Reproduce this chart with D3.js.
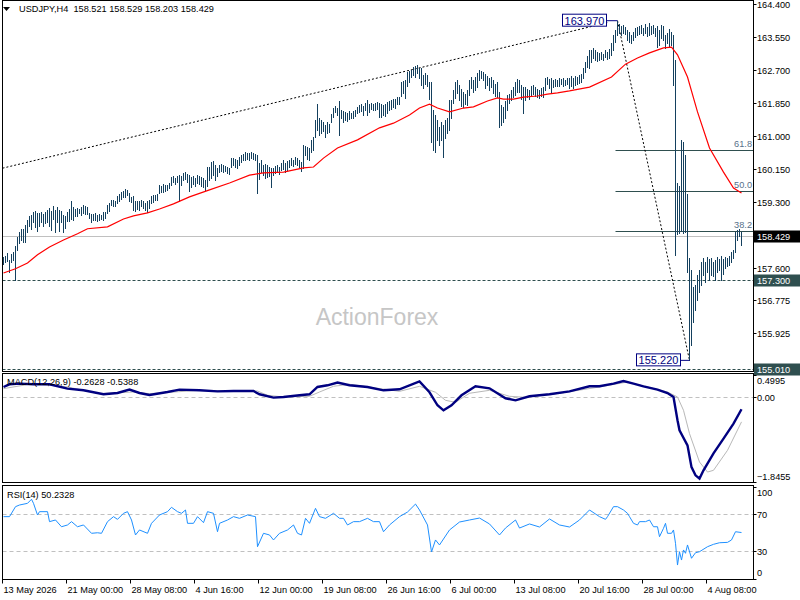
<!DOCTYPE html>
<html>
<head>
<meta charset="utf-8">
<script src="https://cdn.jsdelivr.net/npm/d3@7"></script>
<style>
  body { margin: 0; background: #fff; }
  text { font-family: "Liberation Sans", Arial, sans-serif; }
</style>
</head>
<body>
<div id="chart"></div>
<script>
// USDJPY H4 bars (high / low), one per 4h bar, 13 May -> 7 Aug 2026
const highs = [
  157.88,157.91,157.99,157.81,157.96,158.01,158.17,158.40,158.53,158.61,
  158.61,158.71,158.84,158.94,158.97,159.04,159.07,159.02,159.02,159.04,
  158.99,159.04,159.09,159.15,159.07,159.20,159.09,159.17,159.09,159.07,
  158.97,158.94,159.04,159.12,159.33,159.17,159.12,159.15,159.12,159.17,
  159.22,159.20,159.17,159.02,158.99,158.99,159.02,158.97,158.99,158.97,
  159.04,159.04,159.22,159.27,159.35,159.35,159.33,159.45,159.51,159.56,
  159.58,159.64,159.61,159.53,159.43,159.45,159.33,159.33,159.33,159.35,
  159.33,159.27,159.33,159.35,159.45,159.48,159.48,159.51,159.74,159.71,
  159.76,159.74,159.74,159.79,159.94,159.97,159.92,159.97,159.99,159.97,
  160.05,160.07,160.02,159.99,159.94,159.97,159.92,159.99,159.97,159.94,
  159.92,159.87,160.20,160.20,160.33,160.36,160.25,160.18,160.25,160.28,
  160.25,160.23,160.20,160.18,160.43,160.43,160.41,160.38,160.46,160.51,
  160.54,160.59,160.56,160.56,160.59,160.56,160.54,160.51,160.31,160.38,
  160.25,160.28,160.25,160.20,160.18,160.18,160.23,160.25,160.20,160.31,
  160.38,160.31,160.36,160.38,160.43,160.38,160.46,160.43,160.38,160.33,
  160.77,160.74,160.72,160.69,160.90,160.97,161.41,161.82,161.46,161.41,
  161.36,161.28,161.36,161.31,161.57,161.72,161.77,161.72,161.90,161.67,
  161.64,161.62,161.59,161.64,161.59,161.64,161.67,161.74,161.80,161.82,
  161.77,161.85,161.93,161.82,161.85,161.82,161.85,161.88,161.85,161.82,
  161.80,161.82,161.88,161.90,161.93,161.95,161.95,162.00,162.00,162.39,
  162.42,162.44,162.65,162.67,162.70,162.78,162.80,162.83,162.75,162.75,
  162.57,162.62,162.57,162.39,162.39,161.67,161.54,161.41,161.23,161.36,
  161.28,161.41,161.46,161.93,161.93,162.18,162.39,162.44,162.31,162.21,
  162.13,162.08,162.18,162.44,162.52,162.44,162.52,162.62,162.70,162.67,
  162.65,162.60,162.55,162.49,162.52,162.44,162.34,162.39,162.13,161.80,
  161.74,161.90,162.06,162.08,162.18,162.26,162.39,162.47,162.44,162.31,
  162.26,162.26,162.21,162.18,162.29,162.31,162.26,162.21,162.18,162.24,
  162.26,162.49,162.52,162.47,162.49,162.44,162.47,162.44,162.49,162.47,
  162.49,162.44,162.49,162.49,162.55,162.49,162.55,162.52,162.57,162.60,
  162.75,162.91,163.06,163.22,163.22,163.27,163.22,163.16,163.14,163.16,
  163.11,163.22,163.16,163.24,163.40,163.60,163.73,163.97,163.88,163.83,
  163.86,163.81,163.73,163.68,163.60,163.68,163.78,163.81,163.83,163.86,
  163.78,163.88,163.81,163.91,163.83,163.86,163.78,163.83,163.73,163.86,
  163.83,163.60,163.65,163.75,163.68,163.60,162.96,159.79,159.70,160.90,
  160.85,160.51,159.51,157.86,157.55,157.11,157.16,157.42,157.55,157.75,
  157.86,157.75,157.88,157.83,157.86,157.75,157.81,157.88,157.83,157.91,
  157.83,157.88,157.86,157.91,158.01,158.06,158.53,158.58,158.61,158.529
];
const lows = [
  157.70,157.75,157.78,157.50,157.75,157.81,157.30,158.06,158.24,158.32,
  158.27,158.27,158.53,158.68,158.61,158.78,158.66,158.55,158.68,158.78,
  158.68,158.76,158.78,158.68,158.58,158.86,158.53,158.78,158.55,158.78,
  158.53,158.63,158.81,158.81,158.86,158.84,158.94,158.94,159.02,158.97,
  159.02,158.99,158.99,158.89,158.78,158.84,158.84,158.81,158.84,158.86,
  158.84,158.89,159.02,159.07,159.22,159.20,159.20,159.27,159.33,159.38,
  159.43,159.43,159.48,159.33,159.30,159.09,159.07,159.12,159.09,159.20,
  159.15,159.09,159.04,159.15,159.27,159.30,159.35,159.35,159.53,159.56,
  159.56,159.58,159.61,159.66,159.74,159.81,159.76,159.81,159.33,159.74,
  159.87,159.89,159.81,159.58,159.69,159.76,159.71,159.79,159.76,159.71,
  159.69,159.61,159.71,159.87,159.92,159.99,159.87,159.97,160.07,160.10,
  160.07,160.10,160.05,160.02,160.20,160.25,160.20,160.18,160.25,160.33,
  160.38,160.38,160.41,160.38,160.43,160.41,160.38,159.53,159.89,160.07,
  159.99,159.92,159.94,159.97,159.69,159.99,160.05,160.07,160.02,160.12,
  160.15,160.07,160.12,160.20,160.25,160.23,160.28,160.25,160.20,160.10,
  160.18,160.51,160.41,160.38,160.59,160.64,160.97,161.15,161.03,161.08,
  161.13,160.97,161.08,161.10,161.36,161.49,161.62,161.54,161.03,161.46,
  161.36,161.41,161.38,161.44,161.46,161.46,161.51,161.59,161.62,161.64,
  161.54,161.67,161.54,161.62,161.69,161.67,161.67,161.69,161.49,161.49,
  161.54,161.51,161.59,161.67,161.69,161.74,161.72,161.82,161.82,162.03,
  162.11,161.98,162.29,162.39,162.52,162.57,162.52,162.62,162.49,162.31,
  162.24,162.34,162.29,161.95,160.85,160.64,160.59,160.90,160.77,160.90,
  160.46,160.95,161.08,161.15,161.46,161.85,161.98,162.11,161.93,161.77,
  161.74,161.82,161.80,162.06,162.24,162.13,162.18,162.26,162.44,162.49,
  162.44,162.24,162.31,162.18,162.26,162.11,162.03,162.00,161.23,161.28,
  161.36,161.46,161.67,161.85,161.93,162.00,162.06,162.13,162.13,161.95,
  161.59,161.93,162.00,161.95,162.06,162.08,162.03,162.00,161.98,162.03,
  162.00,162.18,162.34,162.24,162.11,162.26,162.29,162.29,162.29,162.34,
  162.29,162.31,162.34,162.24,162.29,162.24,162.31,162.34,162.37,162.39,
  162.49,162.65,162.78,162.75,162.91,163.01,162.96,162.93,162.96,162.99,
  162.96,163.04,162.99,163.01,163.09,163.22,163.42,163.60,163.65,163.60,
  163.65,163.63,163.47,163.42,163.40,163.47,163.55,163.60,163.63,163.65,
  163.60,163.65,163.58,163.60,163.63,163.65,163.58,163.29,163.34,163.52,
  163.47,163.27,163.40,163.29,163.34,162.31,157.94,158.48,158.50,158.55,
  158.50,158.53,157.50,155.22,155.62,156.21,156.52,156.78,156.99,157.16,
  157.42,157.24,157.50,157.29,157.42,157.40,157.29,157.50,157.55,157.29,
  157.45,157.60,157.65,157.68,157.75,157.86,158.01,158.32,158.42,158.203
];

// red moving average, read at these bar numbers
const maBars = [0,6,12,17,23,30,37,42,52,60,65,72,78,85,93,103,113,123,130,140,150,155,160,167,177,188,195,203,208,213,217,223,230,235,242,247,250,255,260,267,272,277,283,293,304,311,317,323,330,334,337,342,347,353,360,365,369];
const maValues = [157.47,157.58,157.73,157.94,158.14,158.32,158.48,158.61,158.66,158.86,158.94,159.02,159.12,159.25,159.43,159.61,159.79,159.99,160.05,160.07,160.18,160.20,160.43,160.69,160.90,161.21,161.33,161.54,161.72,161.82,161.72,161.62,161.72,161.75,161.90,161.98,161.95,161.95,162.00,162.03,162.08,162.11,162.16,162.26,162.52,162.85,163.01,163.14,163.27,163.29,163.09,162.52,161.62,160.69,160.07,159.66,159.53];

// MACD(12,26,9) main + signal
const macdBars = [0,3,8,15,23,32,40,50,57,63,68,73,82,88,98,107,115,125,128,135,140,148,153,157,162,167,173,182,190,198,208,213,217,220,224,229,236,243,251,256,263,273,283,293,298,305,310,315,320,327,332,335,337,338,342,344,346,348,350,355,360,365,369];
const macdValues = [0.226,0.285,0.30,0.285,0.285,0.19,0.153,0.066,0.094,0.169,0.094,0.05,0.116,0.169,0.153,0.13,0.138,0.138,0.066,-0.007,0.007,0.044,0.066,0.226,0.263,0.322,0.263,0.226,0.153,0.175,0.35,0.11,-0.175,-0.285,-0.175,0.044,0.241,0.197,-0.022,-0.066,0.022,0.066,0.13,0.241,0.241,0.30,0.357,0.30,0.241,0.169,0.094,0.007,-0.504,-0.724,-1.053,-1.53,-1.71,-1.78,-1.60,-1.23,-0.906,-0.577,-0.2628];
const signalBars = [0,15,32,48,65,73,98,127,132,140,153,158,165,173,198,208,216,221,226,233,243,253,261,278,298,312,332,337,340,343,348,352,355,362,369];
const signalValues = [0.19,0.30,0.226,0.08,0.116,0.08,0.153,0.138,0.044,0.007,0.022,0.116,0.241,0.285,0.13,0.241,0.11,-0.066,-0.11,0.088,0.153,0.022,0.0,0.088,0.226,0.335,0.116,0.007,-0.285,-0.796,-1.419,-1.638,-1.60,-1.162,-0.5388];

// RSI(14)
const rsiBars = [0,3,6,8,12,14,15,17,18,22,23,26,29,32,34,37,40,44,47,49,52,55,57,60,62,64,66,68,72,74,78,82,84,87,89,91,92,95,97,100,102,105,107,108,112,115,118,122,126,127,130,133,135,138,142,145,147,149,151,153,156,158,161,165,168,170,172,175,178,182,185,188,190,193,198,202,206,208,212,214,216,218,223,228,233,238,243,248,251,256,258,263,268,273,278,283,288,293,298,301,302,305,307,310,312,313,315,317,318,321,323,325,327,328,330,331,332,334,335,336,337,338,339,340,341,342,344,346,348,352,355,358,362,364,366,369];
const rsiValues = [67.4,67.4,78.2,80,81.8,86.2,81.8,69.2,72.8,72.8,62,63.8,56.5,58.4,62,56.5,58.4,49.4,50,49.4,62,67.4,64.5,71,72.8,63.8,47.6,53,49.4,60.2,69.2,72.8,77.5,72.8,71,74.6,60.2,60.2,67.4,60.9,72.8,71,51.1,60.2,63.8,67.4,65.6,69.2,67.4,34.9,49.4,47.6,42.2,49.4,53,58.4,49.4,47.6,65.6,60.2,76.4,67.4,65.6,71,65.6,65.6,58.4,62,62,65.6,62,62,51.1,58.4,67.4,72.4,81,74.6,58.4,29.2,42.2,36.8,53,61.6,63.8,65.9,59.5,47.6,55.1,63.8,55.1,59.5,56.2,64.9,58.4,56.2,63.8,74.6,67.4,64.5,67.4,78.2,78.2,74.6,71,67.4,60.2,58.4,62,62,63.8,56.5,56.5,45.7,54.8,60.2,49.4,49.4,53,38.6,15.1,29.5,20.5,31.4,27.8,36.8,22.4,28.4,29.5,34.9,37.5,39.2,39.6,42.2,51.1,50.2328];

// axis labels
const timeTickBars = [0,32,64,96,128,160,192,224,256,288,320,352];
const timeTickLabels = ["13 May 2026","21 May 00:00","28 May 08:00","4 Jun 16:00","12 Jun 00:00","19 Jun 08:00","26 Jun 16:00","6 Jul 00:00","13 Jul 08:00","20 Jul 16:00","28 Jul 00:00","4 Aug 08:00"];
const priceTicks = [164.400,163.550,162.700,161.850,161.000,160.150,159.300,157.600,156.775,155.925];
const priceMarks = [158.429,157.300,155.010];   // bid, support, lower line
const macdTicks = [0.4995,0.00,-1.8455];
const rsiTicks = [100,70,30,0];
const rsiLevels = [70,30];

// trendline + fibonacci swing
const trendBars = [0,302], trendPrices = [160.17,163.92];
const swingBars = [307,343], swingPrices = [163.970,155.220];
const fibRatios = [0.382,0.5,0.618];
const fibLabels = ["38.2","50.0","61.8"];

const W = 800, H = 600, L = 2.5, R = 753.5;
const mainTop = 0.5, mainBot = 371.5, macdTop = 373.5, macdBot = 482.5, rsiTop = 485.5, rsiBot = 579.5;
const fs = "9.2px";
const teal = "#2f4f4f";

const svg = d3.select("#chart").append("svg")
  .attr("width", W).attr("height", H);

const x = d3.scaleLinear().domain([0, highs.length - 1]).range([3.5, 741.5]);
const yP = d3.scaleLinear().domain([155.01, 164.4]).range([368.5, 4]);
const yM = d3.scaleLinear().domain([-1.8455, 0.4995]).range([481.5, 374.5]);
const yR = d3.scaleLinear().domain([0, 100]).range([579, 486.5]);

// watermark first so everything sits on top of it
svg.append("text")
  .attr("x", 377).attr("y", 325)
  .attr("text-anchor", "middle")
  .attr("font-size", "23px")
  .attr("fill", "#c6c6c6")
  .text("ActionForex");

//---------- main panel ----------
const gMain = svg.append("g");

// horizontal reference lines
gMain.append("line")
  .attr("x1", L).attr("x2", R)
  .attr("y1", Math.round(yP(priceMarks[0])) + 0.5).attr("y2", Math.round(yP(priceMarks[0])) + 0.5)
  .attr("stroke", "#c0c0c0");
priceMarks.slice(1).forEach(function(p) {
  gMain.append("line")
    .attr("x1", L).attr("x2", R)
    .attr("y1", Math.round(yP(p)) + 0.5).attr("y2", Math.round(yP(p)) + 0.5)
    .attr("stroke", teal).attr("stroke-dasharray", "3,2");
});

// fibonacci retracement levels
const fibRange = swingPrices[0] - swingPrices[1];
fibRatios.forEach(function(r, k) {
  let p = swingPrices[1] + r * fibRange;
  let yy = Math.round(yP(p)) + 0.5;
  gMain.append("line")
    .attr("x1", x(swingBars[0]) - 2).attr("x2", R)
    .attr("y1", yy).attr("y2", yy)
    .attr("stroke", teal);
  gMain.append("text")
    .attr("x", 752).attr("y", yy - 3.5)
    .attr("text-anchor", "end")
    .attr("font-size", fs)
    .attr("fill", "#56708a")
    .text(fibLabels[k]);
});

// dashed trendline and fib diagonal
gMain.append("line")
  .attr("x1", x(trendBars[0]) - 1).attr("y1", yP(trendPrices[0]))
  .attr("x2", x(trendBars[1])).attr("y2", yP(trendPrices[1]))
  .attr("stroke", "#000").attr("stroke-dasharray", "2,2");
gMain.append("line")
  .attr("x1", x(swingBars[0])).attr("y1", yP(swingPrices[0]))
  .attr("x2", x(swingBars[1])).attr("y2", yP(swingPrices[1]))
  .attr("stroke", "#000").attr("stroke-dasharray", "2,2");

// price bars
gMain.selectAll("line.bar")
  .data(highs)
  .join("line")
  .attr("class", "bar")
  .attr("x1", (d, i) => x(i)).attr("x2", (d, i) => x(i))
  .attr("y1", d => Math.round(yP(d)))
  .attr("y2", (d, i) => Math.round(yP(lows[i])) + 1)
  .attr("stroke", "#14405e")
  .attr("shape-rendering", "crispEdges");

// moving average
gMain.append("path")
  .datum(maBars.map((b, i) => [b, maValues[i]]))
  .attr("d", d3.line().x(d => x(d[0])).y(d => yP(d[1])))
  .attr("fill", "none")
  .attr("stroke", "#ff0000")
  .attr("stroke-width", 1.2);

// swing high / low labels
function swingLabel(bar, price, boxRight) {
  let yy = yP(price);
  gMain.append("line")
    .attr("x1", boxRight).attr("x2", x(bar))
    .attr("y1", yy).attr("y2", yy)
    .attr("stroke", "#000080");
  gMain.append("rect")
    .attr("x", boxRight - 44).attr("y", yy - 6.5)
    .attr("width", 44).attr("height", 12)
    .attr("fill", "#fff").attr("stroke", "#000080");
  gMain.append("text")
    .attr("x", boxRight - 22).attr("y", yy + 4)
    .attr("text-anchor", "middle")
    .attr("font-size", "11px")
    .attr("fill", "#000080")
    .text(d3.format(".3f")(price));
}
swingLabel(swingBars[0], swingPrices[0], 606.5);
swingLabel(swingBars[1], swingPrices[1], 680.5);

// header
svg.append("path").attr("d", "M3,7 L10,7 L6.5,11 Z").attr("fill", "#000");
svg.append("text")
  .attr("x", 19).attr("y", 11.5)
  .attr("font-size", fs)
  .style("white-space", "pre")
  .text("USDJPY,H4  158.521 158.529 158.203 158.429");

//---------- MACD panel ----------
const gMacd = svg.append("g");
gMacd.append("line")
  .attr("x1", L).attr("x2", R)
  .attr("y1", Math.round(yM(0)) + 0.5).attr("y2", Math.round(yM(0)) + 0.5)
  .attr("stroke", "#c0c0c0").attr("stroke-dasharray", "4,3");
gMacd.append("path")
  .datum(signalBars.map((b, i) => [b, signalValues[i]]))
  .attr("d", d3.line().x(d => x(d[0])).y(d => yM(d[1])))
  .attr("fill", "none").attr("stroke", "#b8b8b8").attr("stroke-width", 1);
gMacd.append("path")
  .datum(macdBars.map((b, i) => [b, macdValues[i]]))
  .attr("d", d3.line().x(d => x(d[0])).y(d => yM(d[1])))
  .attr("fill", "none").attr("stroke", "#000080").attr("stroke-width", 2.4);
gMacd.append("text")
  .attr("x", 7).attr("y", 385)
  .attr("font-size", fs)
  .text("MACD(12,26,9) -0.2628 -0.5388");

//---------- RSI panel ----------
const gRsi = svg.append("g");
rsiLevels.forEach(function(v) {
  gRsi.append("line")
    .attr("x1", L).attr("x2", R)
    .attr("y1", Math.round(yR(v)) + 0.5).attr("y2", Math.round(yR(v)) + 0.5)
    .attr("stroke", "#c0c0c0").attr("stroke-dasharray", "4,3");
});
gRsi.append("path")
  .datum(rsiBars.map((b, i) => [b, rsiValues[i]]))
  .attr("d", d3.line().x(d => x(d[0])).y(d => yR(d[1])))
  .attr("fill", "none").attr("stroke", "#1e90ff").attr("stroke-width", 1);
gRsi.append("text")
  .attr("x", 7).attr("y", 498)
  .attr("font-size", fs)
  .text("RSI(14) 50.2328");

//---------- frames ----------
[[mainTop, mainBot], [macdTop, macdBot], [rsiTop, rsiBot]].forEach(function(p) {
  svg.append("rect")
    .attr("x", L).attr("y", p[0])
    .attr("width", R - L).attr("height", p[1] - p[0])
    .attr("fill", "none").attr("stroke", "#000");
});

//---------- right axes ----------
const axisG = svg.append("g").attr("font-size", fs);
function rightLabel(yy, txt, tickY) {
  axisG.append("line")
    .attr("x1", R).attr("x2", R + 3)
    .attr("y1", tickY).attr("y2", tickY)
    .attr("stroke", "#000");
  axisG.append("text")
    .attr("x", 757).attr("y", yy + 3.4)
    .text(txt);
}
priceTicks.forEach(function(p) {
  let yy = Math.round(yP(p)) + 0.5;
  rightLabel(Math.max(yy, 5), d3.format(".3f")(p), yy);
});
priceMarks.forEach(function(p, k) {
  let yy = Math.round(yP(p)) + 0.5;
  axisG.append("rect")
    .attr("x", R + 0.5).attr("y", yy - 6)
    .attr("width", W - R).attr("height", 12)
    .attr("fill", k === 0 ? "#000" : teal);
  axisG.append("text")
    .attr("x", 757).attr("y", yy + 3.4)
    .attr("fill", "#fff")
    .text(d3.format(".3f")(p));
});
macdTicks.forEach(function(v) {
  let yy = Math.round(yM(v)) + 0.5;
  let ly = Math.min(Math.max(yy, macdTop + 7), macdBot - 6);
  rightLabel(ly, v === 0 ? "0.00" : d3.format(".4f")(v).replace("-", "-"), yy);
});
rsiTicks.forEach(function(v) {
  let yy = Math.round(yR(v)) + 0.5;
  let ly = Math.min(Math.max(yy, rsiTop + 7), rsiBot - 7);
  rightLabel(ly, String(v), yy);
});

//---------- time axis ----------
timeTickBars.forEach(function(b, k) {
  let xx = x(b) - 1;
  svg.append("line")
    .attr("x1", xx).attr("x2", xx)
    .attr("y1", rsiBot).attr("y2", rsiBot + 4)
    .attr("stroke", "#000");
  svg.append("text")
    .attr("x", xx + 1).attr("y", 592.5)
    .attr("font-size", fs)
    .text(timeTickLabels[k]);
});
</script>
</body>
</html>
